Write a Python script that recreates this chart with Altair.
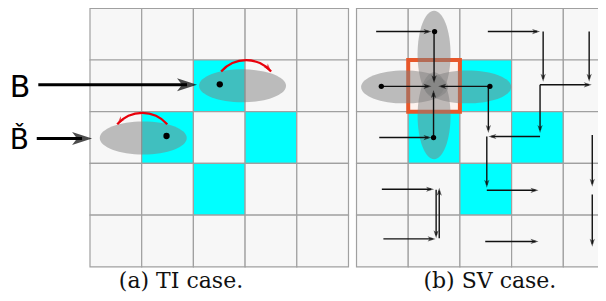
import altair as alt
import pandas as pd
import numpy as np

# ---------------- data (grid units: one cell = 1, rows counted downward) ----------------
n_cells = 5
cyan_cols = [2, 1, 3, 2]
cyan_rows = [1, 2, 2, 3]

# (a) TI case
ti_dot_x = [2.51, 1.48]
ti_dot_y = [1.47, 2.47]
ti_ell_x = [2.95, 1.03]
ti_ell_y = [1.50, 2.51]
ti_arrow_x1 = [-1.00, -1.03]
ti_arrow_x2 = [2.07, 0.04]
ti_arrow_y = [1.48, 2.52]
red_arc_cx = [3.02, 1.01]
red_arc_cy = [1.64, 2.66]
red_arc_dir = [1, -1]          # 1 = clockwise (tip right), -1 = counter-clockwise (tip left)
label_text = ["B", "B\u030c"]
label_x = [-1.55, -1.55]
label_y = [1.72, 2.72]
label_size = [30, 28]

# (b) SV case (relative to its own grid)
sv_dot_x = [1.51, 0.48, 2.58, 1.49]
sv_dot_y = [0.45, 1.51, 1.51, 2.50]
sv_ell_x = [0.93, 2.15, 1.50, 1.50]
sv_ell_y = [1.52, 1.52, 0.89, 2.08]
sv_ell_ang = [0, 0, 90, 90]
sv_tail_x = [0.38, 1.50, 0.48, 2.58, 1.49, 0.44, 2.55, 2.54, 3.61, 4.50, 3.55, 3.55, 3.55, 2.52, 2.52, 4.56, 4.56, 2.49, 0.49, 0.52, 1.54, 1.60]
sv_tail_y = [0.45, 0.45, 1.51, 1.51, 2.50, 2.50, 1.51, 0.45, 0.45, 0.45, 1.48, 1.48, 2.48, 2.48, 3.52, 2.45, 3.60, 4.51, 3.50, 4.46, 3.51, 4.45]
sv_tip_x = [1.45, 1.50, 1.45, 1.58, 1.49, 1.45, 2.55, 3.55, 3.61, 4.50, 4.55, 3.55, 2.55, 2.52, 3.52, 4.56, 4.56, 3.52, 1.50, 1.53, 1.54, 1.60]
sv_tip_y = [0.45, 1.45, 1.51, 1.51, 1.58, 2.50, 2.41, 0.45, 1.42, 1.42, 1.48, 2.41, 2.48, 3.47, 3.52, 3.45, 4.61, 4.51, 3.50, 4.46, 4.45, 3.47]
focus_col, focus_row = 1, 1

captions = ["(a) TI case.", "(b) SV case."]
caption_x = [1.76, 2.58]
caption_y = [5.41, 5.41]

# ---------------- layout ----------------
S = 51.7                      # px per cell
GX, GY = 90.0, 8.3            # page position of panel (a) grid corner
PANEL_B = 5.155               # panel (b) offset in cells
W, H = 590, 285
xdom = [(8 - GX) / S, (8 + W - GX) / S]
ydom = [(8 - GY) / S, (8 + H - GY) / S]
xs = alt.Scale(domain=xdom, nice=False, zero=False)
ys = alt.Scale(domain=ydom, nice=False, zero=False, reverse=True)

def X(f): return alt.X(f"{f}:Q", scale=xs, axis=None)
def Y(f): return alt.Y(f"{f}:Q", scale=ys, axis=None)

ELL = "M-1,0 A1,0.379 0 1,1 1,0 A1,0.379 0 1,1 -1,0 Z"
HEAD = "M0,0 L0.65,2 L0,1.5 L-0.65,2 Z"

# cells
cyan = set(zip(cyan_cols, cyan_rows))
cells = []
for off in [0.0, PANEL_B]:
    for c in range(n_cells):
        for r in range(n_cells):
            cells.append(dict(x=c + off, x2=c + 1 + off, y=r, y2=r + 1,
                              kind="cyan" if (c, r) in cyan else "plain"))
cells = pd.DataFrame(cells)
cell_layer = alt.Chart(cells).mark_rect(stroke="#a0a0a0", strokeWidth=1.2).encode(
    x=X("x"), x2="x2:Q", y=Y("y"), y2="y2:Q",
    color=alt.Color("kind:N", scale=alt.Scale(domain=["plain", "cyan"], range=["#f7f7f7", "#00ffff"]), legend=None))

focus = pd.DataFrame([dict(x=focus_col + PANEL_B, x2=focus_col + 1 + PANEL_B, y=focus_row, y2=focus_row + 1)])
focus_layer = alt.Chart(focus).mark_rect(fill="#fdf2ee", stroke="#e8572a", strokeWidth=4).encode(
    x=X("x"), x2="x2:Q", y=Y("y"), y2="y2:Q")

ells = pd.DataFrame(dict(
    x=ti_ell_x + [v + PANEL_B for v in sv_ell_x],
    y=ti_ell_y + sv_ell_y,
    ang=[0, 0] + sv_ell_ang))
ell_layer = alt.Chart(ells).mark_point(shape=ELL, size=87 * 87, filled=True, color="#808080",
                                       fillOpacity=0.5, strokeWidth=0).encode(
    x=X("x"), y=Y("y"), angle=alt.Angle("ang:Q", scale=None))

# red arcs
R = 33.0
half = 0.86
arcs = []
heads_red = []
for cx, cy, d in zip(red_arc_cx, red_arc_cy, red_arc_dir):
    arcs.append(dict(x=cx, y=cy, t0=-half, t1=half, ro=R + 1.1, ri=R - 1.1))
    th = half * d
    heads_red.append(dict(x=cx + R / S * np.sin(th), y=cy - R / S * np.cos(th),
                          ang=(np.degrees(th) + 90 * d) % 360))
arc_layer = alt.Chart(pd.DataFrame(arcs)).mark_arc(color="#e8000b").encode(
    x=X("x"), y=Y("y"),
    theta=alt.Theta("t0:Q", scale=None), theta2="t1:Q",
    radius=alt.Radius("ro:Q", scale=None), radius2="ri:Q")
red_head_layer = alt.Chart(pd.DataFrame(heads_red)).mark_point(
    shape=HEAD, size=70, filled=True, color="#e8000b", strokeWidth=0).encode(
    x=X("x"), y=Y("y"), angle=alt.Angle("ang:Q", scale=None))

def arrows(tx, ty, hx, hy, short_px):
    rows = []
    for a, b, c, d in zip(tx, ty, hx, hy):
        dx, dy = c - a, d - b
        L = float(np.hypot(dx, dy))
        sh = short_px / S
        rows.append(dict(x=a, y=b, x2=c - dx / L * sh, y2=d - dy / L * sh, hx=c, hy=d,
                         ang=float(np.degrees(np.arctan2(dx, -dy))) % 360))
    return pd.DataFrame(rows)

thick = arrows(ti_arrow_x1, ti_arrow_y, ti_arrow_x2, ti_arrow_y, 10)
thin = arrows([v + PANEL_B for v in sv_tail_x], sv_tail_y, [v + PANEL_B for v in sv_tip_x], sv_tip_y, 3)

thick_rule = alt.Chart(thick).mark_rule(color="black", strokeWidth=3).encode(
    x=X("x"), y=Y("y"), x2="x2:Q", y2="y2:Q")
thick_head = alt.Chart(thick).mark_point(shape=HEAD, size=400, filled=True, color="black", strokeWidth=0).encode(
    x=X("hx"), y=Y("hy"), angle=alt.Angle("ang:Q", scale=None))
thin_rule = alt.Chart(thin).mark_rule(color="#111111", strokeWidth=1.4).encode(
    x=X("x"), y=Y("y"), x2="x2:Q", y2="y2:Q")
thin_head = alt.Chart(thin).mark_point(shape=HEAD, size=64, filled=True, color="#111111", strokeWidth=0).encode(
    x=X("hx"), y=Y("hy"), angle=alt.Angle("ang:Q", scale=None))

dots_a = pd.DataFrame(dict(x=ti_dot_x, y=ti_dot_y))
dots_b = pd.DataFrame(dict(x=[v + PANEL_B for v in sv_dot_x], y=sv_dot_y))
dot_a_layer = alt.Chart(dots_a).mark_circle(size=40, color="black", opacity=1).encode(x=X("x"), y=Y("y"))
dot_b_layer = alt.Chart(dots_b).mark_circle(size=28, color="black", opacity=1).encode(x=X("x"), y=Y("y"))

labels = pd.DataFrame(dict(x=label_x, y=label_y, t=label_text, fs=label_size))
label_layer = alt.Chart(labels).mark_text(font="DejaVu Sans", align="left", baseline="alphabetic",
                                          color="black").encode(
    x=X("x"), y=Y("y"), text="t:N", size=alt.Size("fs:Q", scale=None))

caps = pd.DataFrame(dict(x=[caption_x[0], caption_x[1] + PANEL_B], y=caption_y, t=captions))
cap_layer = alt.Chart(caps).mark_text(font="DejaVu Serif", fontSize=22, align="center",
                                      baseline="alphabetic", color="#111111").encode(
    x=X("x"), y=Y("y"), text="t:N")

chart = alt.layer(
    cell_layer, focus_layer, ell_layer, arc_layer, red_head_layer,
    thick_rule, thick_head, thin_rule, thin_head, dot_a_layer, dot_b_layer,
    label_layer, cap_layer
).properties(width=W, height=H, padding=0, autosize=alt.AutoSizeParams(type="none")
).configure_view(stroke=None)

chart.save("out.html", embed_options={"renderer": "svg", "actions": False})
